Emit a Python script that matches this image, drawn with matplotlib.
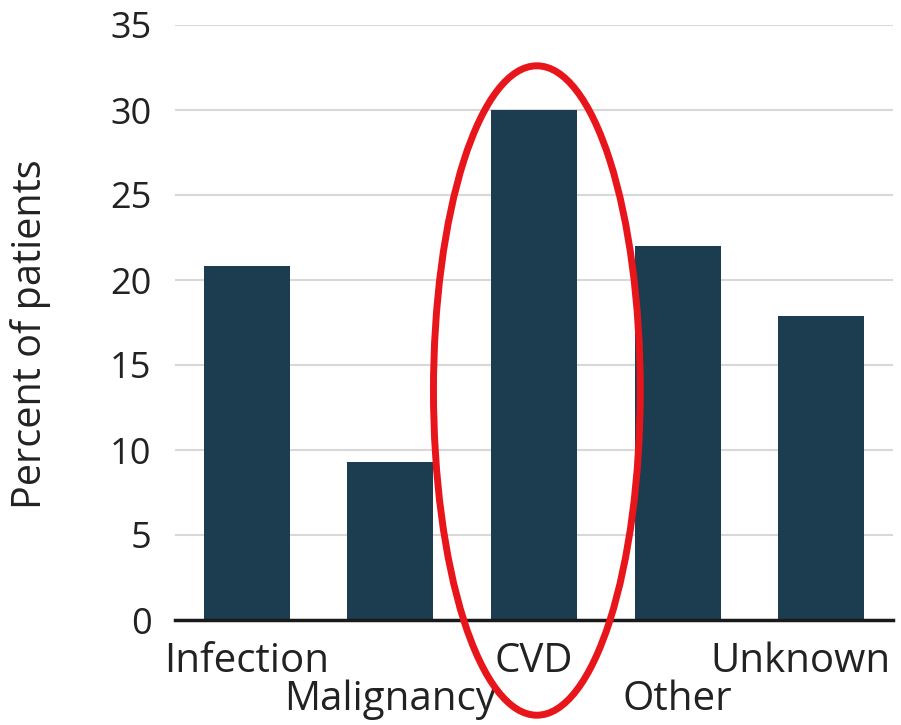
import matplotlib
matplotlib.use("Agg")
import matplotlib.pyplot as plt
from matplotlib.patches import Ellipse

plt.rcParams['font.family'] = ['Open Sans', 'DejaVu Sans']

categories = ["Infection", "Malignancy", "CVD", "Other", "Unknown"]
percent = [20.8, 9.3, 30.0, 22.0, 17.9]
y_ticks = [0, 5, 10, 15, 20, 25, 30, 35]
highlight = "CVD"

bar_color = "#1b3d4f"
text_color = "#222222"

fig = plt.figure(figsize=(9.01, 7.25), dpi=100)
ax = fig.add_axes([175 / 901, 105 / 725, 718 / 901, 595 / 725])

x = list(range(len(categories)))
ax.bar(x, percent, width=0.6, color=bar_color, zorder=2)

ax.set_xlim(-0.5, len(categories) - 0.5)
ax.set_ylim(0, 35)
ax.set_yticks(y_ticks)
ax.set_yticklabels([str(t) for t in y_ticks], fontsize=26, color=text_color)
ax.tick_params(axis='y', length=0, pad=17)
ax.set_xticks([])

ax.grid(axis='y', color='#d8d8d8', linewidth=1.5, zorder=0)
for side in ("top", "right", "left"):
    ax.spines[side].set_visible(False)
ax.spines["bottom"].set_color("#1a1a1a")
ax.spines["bottom"].set_linewidth(2.5)
ax.spines["bottom"].set_zorder(3)

# staggered category labels: even ones on the first row, odd ones below
labels = []
for i, name in enumerate(categories):
    offset = 52 if i % 2 == 0 else 90
    t = ax.annotate(name, xy=(i, 0), xycoords=ax.get_xaxis_transform(),
                    xytext=(0, -offset), textcoords='offset pixels',
                    ha='center', va='baseline', fontsize=29, color=text_color,
                    annotation_clip=False)
    labels.append(t)

# keep labels inside the figure's right edge
fig.canvas.draw()
renderer = fig.canvas.get_renderer()
right_limit = fig.bbox.width - 10
for t in labels:
    bb = t.get_window_extent(renderer)
    if bb.x1 > right_limit:
        dx, dy = t.xyann
        t.xyann = (dx - (bb.x1 - right_limit), dy)

fig.text(31 / 901, 1 - 334 / 725, "Percent of patients", rotation=90,
         ha='center', va='center', fontsize=28.5, color=text_color)

# red ring around the highlighted category
hi = categories.index(highlight)
ring = Ellipse((hi + 0.02, 13.5), width=1.44, height=38.2, fill=False,
               edgecolor='#e8161b', linewidth=5, zorder=4, clip_on=False)
ax.add_patch(ring)

fig.savefig("out.png", dpi=100)
